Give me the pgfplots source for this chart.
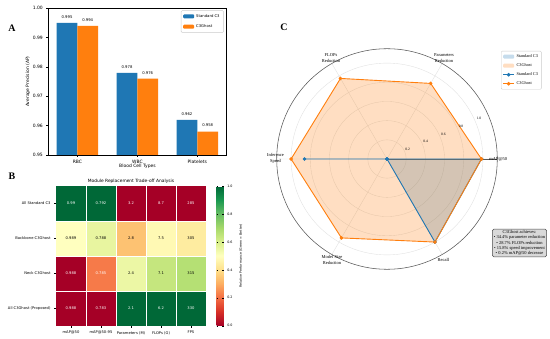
\documentclass[border=0pt]{standalone}
\usepackage{pgfplots}
\pgfplotsset{compat=1.18}
\usepackage{pgfplotstable}
\usepgfplotslibrary{polar}
\usepackage{fontspec}
\setmainfont{DejaVu Sans}
\newfontfamily\serifF{Liberation Serif}
\definecolor{c3blue}{RGB}{31,119,180}
\definecolor{c3orange}{RGB}{255,127,14}
\def\fC{\fontsize{3.3}{4}\selectfont}
\def\fT{\fontsize{3.7}{4.4}\selectfont}
\def\fL{\fontsize{3.8}{4.5}\selectfont}
\def\fS{\fontsize{4.5}{5.3}\selectfont}
\def\fH{\fontsize{4.4}{5.2}\selectfont}
\def\fR{\fontsize{4.5}{5.7}\selectfont}
\pgfplotsset{colormap={RdYlGn}{rgb255(0cm)=(165,0,38) rgb255(1cm)=(215,48,39) rgb255(2cm)=(244,109,67) rgb255(3cm)=(253,174,97) rgb255(4cm)=(254,224,139) rgb255(5cm)=(255,255,191) rgb255(6cm)=(217,239,139) rgb255(7cm)=(166,217,106) rgb255(8cm)=(102,189,99) rgb255(9cm)=(26,152,80) rgb255(10cm)=(0,104,55)}}
\pgfplotsset{
  legpatch/.style={legend image code/.code={\fill[##1] (0bp,-2bp) rectangle (11bp,2bp);}},
  legline/.style={legend image code/.code={\draw[mark repeat=2, mark phase=2, ##1] plot coordinates {(0bp,0bp) (5.5bp,0bp) (11bp,0bp)};}},
}

\pgfplotstableread{
cat std ghost
0 0.995 0.994
1 0.978 0.976
2 0.962 0.958
}\bars

% heatmap colour values (normalised, read from the cells); y=3 is the top row
\pgfplotstableread{
x y v
0 0 0.00
1 0 0.00
2 0 1.00
3 0 1.00
4 0 1.00
0 1 0.00
1 1 0.22
2 1 0.55
3 1 0.64
4 1 0.67
0 2 0.50
1 2 0.56
2 2 0.34
3 2 0.48
4 2 0.44
0 3 1.00
1 3 1.00
2 3 0.00
3 3 0.00
4 3 0.00
}\heatcolors

\pgfplotstableread{
x y lbl
0 3 0.99
1 3 0.792
2 3 3.2
3 3 8.7
4 3 285
0 1 0.988
1 1 0.785
0 0 0.988
1 0 0.783
2 0 2.1
3 0 6.2
4 0 330
}\heatwhite

\pgfplotstableread{
x y lbl
0 2 0.989
1 2 0.788
2 2 2.8
3 2 7.5
4 2 305
2 1 2.4
3 1 7.1
4 1 315
}\heatblack

\begin{document}
\begin{tikzpicture}
\useasboundingbox (0,0) rectangle (550bp,339bp);
\fill[white] (0,0) rectangle (550bp,339bp);

% ---------------- Panel A ----------------
\begin{axis}[
  scale only axis, width=178.4bp, height=146.7bp,
  at={(48.3bp,184bp)}, anchor=south west,
  /pgf/number format/assume math mode=true,
  ybar=0pt, bar width=20.7bp,
  xmin=-0.485, xmax=2.49, ymin=0.95, ymax=1.0,
  xtick={0,1,2}, xticklabels={RBC,WBC,Platelets},
  ytick={0.95,0.96,0.97,0.98,0.99,1.00},
  yticklabel style={/pgf/number format/.cd,fixed,precision=2,zerofill},
  tick align=outside, tick pos=left, major tick length=2bp,
  tick style={black, line width=0.4bp},
  axis line style={line width=0.5bp},
  ticklabel style={font=\fS},
  xlabel={Blood Cell Types}, ylabel={Average Precision (AP)},
  label style={font=\fS},
  xlabel style={at={(axis description cs:0.5,-0.075)}, anchor=center},
  ylabel style={at={(axis description cs:-0.114,0.5)}, anchor=center},
  nodes near coords={\pgfmathprintnumber[fixed,precision=3,zerofill]{\pgfplotspointmeta}},
  nodes near coords style={font=\fL, yshift=1bp, text=black},
  legend style={at={(0.984,0.985)}, anchor=north east, font=\fL, draw=black!20, rounded corners=1bp, inner xsep=2bp, inner ysep=1.5bp, row sep=2bp},
  legend cell align=left,
]
\addplot[fill=c3blue, draw=none, legpatch] table[x=cat,y=std]{\bars};
\addplot[fill=c3orange, draw=none, legpatch] table[x=cat,y=ghost]{\bars};
\legend{Standard C3, C3Ghost}
\end{axis}

% ---------------- Panel B ----------------
\begin{axis}[
  scale only axis, width=150bp, height=139.7bp,
  at={(56bp,13.3bp)}, anchor=south west,
  /pgf/number format/assume math mode=true,
  xmin=-0.5, xmax=4.5, ymin=-0.5, ymax=3.5,
  xtick={0,1,2,3,4}, xticklabels={mAP@50, mAP@50-95, Parameters (M), FLOPs (G), FPS},
  ytick={0,1,2,3}, yticklabels={All C3Ghost (Proposed), Neck C3Ghost, Backbone C3Ghost, All Standard C3},
  tick align=outside, tick pos=left, major tick length=2bp,
  tick style={black, line width=0.4bp},
  axis line style={draw=none},
  ticklabel style={font=\fT},
  title={Module Replacement Trade-off Analysis}, title style={font=\fH, yshift=-7bp},
  colormap name=RdYlGn,
  point meta min=0, point meta max=1,
  colorbar,
  colorbar style={
    at={(parent axis.north east)}, anchor=north west, xshift=2bp,
    width=7.3bp,
    /pgf/number format/assume math mode=true,
    ytick={0,0.2,0.4,0.6,0.8,1.0},
    yticklabel style={font=\fC, /pgf/number format/.cd, fixed, precision=1, zerofill},
    ylabel={Relative Performance (Green = Better)}, ylabel style={font=\fC},
    major tick length=1.5bp, tick style={black, line width=0.3bp},
    axis line style={draw=none},
  },
]
\addplot[matrix plot*, mesh/cols=5, point meta=explicit] table[meta=v]{\heatcolors};
\draw[white, line width=0.5bp] (axis cs:0.5,-0.5) -- (axis cs:0.5,3.5)
  (axis cs:1.5,-0.5) -- (axis cs:1.5,3.5) (axis cs:2.5,-0.5) -- (axis cs:2.5,3.5)
  (axis cs:3.5,-0.5) -- (axis cs:3.5,3.5)
  (axis cs:-0.5,0.5) -- (axis cs:4.5,0.5) (axis cs:-0.5,1.5) -- (axis cs:4.5,1.5)
  (axis cs:-0.5,2.5) -- (axis cs:4.5,2.5);
\addplot[draw=none, mark=none, nodes near coords, nodes near coords align=center,
  point meta=explicit symbolic, nodes near coords style={font=\fT, text=white}] table[meta=lbl]{\heatwhite};
\addplot[draw=none, mark=none, nodes near coords, nodes near coords align=center,
  point meta=explicit symbolic, nodes near coords style={font=\fT, text=black}] table[meta=lbl]{\heatblack};
\end{axis}

% ---------------- Panel C ----------------
\begin{polaraxis}[
  scale only axis, width=220.6bp, height=220.6bp,
  at={(387bp,180bp)}, anchor=center,
  xmin=0, xmax=360, ymin=0, ymax=1.15,
  xtick={0,60,120,180,240,300}, xticklabels={},
  ytick={0.2,0.4,0.6,0.8,1.0}, yticklabels={},
  grid=major, major grid style={draw=black!12, line width=0.35bp},
  axis line style={draw=black!65, line width=0.55bp},
  major tick length=0pt,
  legend style={at={(1.0168,0.9896)}, anchor=north west, font=\serifF\fontsize{4.3}{5}\selectfont, draw=black!20, fill=white, rounded corners=1bp, inner xsep=1.5bp, inner ysep=1.2bp, row sep=0.6bp},
  legend cell align=left,
]
\addplot[fill=c3blue, fill opacity=0.25, draw=none, legpatch]
  coordinates {(0,0.985) (60,0) (120,0) (180,0.86) (240,0) (300,1.0) (360,0.985)};
\addplot[fill=c3orange, fill opacity=0.25, draw=none, legpatch]
  coordinates {(0,0.985) (60,0.91) (120,0.97) (180,1.0) (240,0.95) (300,1.0) (360,0.985)};
\addplot[c3blue, line width=0.9bp, mark=*, mark size=1.3bp, legline]
  coordinates {(0,0.985) (60,0) (120,0) (180,0.86) (240,0) (300,1.0) (360,0.985)};
\addplot[c3orange, line width=0.9bp, mark=*, mark size=1.3bp, legline]
  coordinates {(0,0.985) (60,0.91) (120,0.97) (180,1.0) (240,0.95) (300,1.0) (360,0.985)};
\legend{Standard C3, C3Ghost, Standard C3, C3Ghost}
\end{polaraxis}

% radar labels
\begin{scope}[every node/.style={font=\serifF\fR, align=center, inner sep=0pt}]
\node at (331bp,281bp) {FLOPs\\Reduction};
\node at (444bp,281bp) {Parameters\\Reduction};
\node at (275.5bp,180.5bp) {Inference\\Speed};
\node at (332bp,79bp) {Model Size\\Reduction};
\node at (443.3bp,79bp) {Recall};
\node at (498.3bp,180bp) {mAP@50};
\end{scope}
\begin{scope}[every node/.style={font=\serifF\fontsize{3.6}{4}\selectfont, inner sep=0pt}]
\node at (407.7bp,190bp) {0.2};
\node at (425.7bp,197.7bp) {0.4};
\node at (443.3bp,205bp) {0.6};
\node at (461bp,212.7bp) {0.8};
\node at (479bp,220.3bp) {1.0};
\end{scope}
\node[draw=black!70, fill=black!15, rounded corners=1.5bp, line width=0.4bp, align=center,
  font=\serifF\fontsize{4.5}{5.2}\selectfont, inner sep=1.5bp] at (519.5bp,96bp)
  {C3Ghost achieves:\\• 34.4\% parameter reduction\\• 28.7\% FLOPs reduction\\• 15.8\% speed improvement\\• 0.2\% mAP@50 decrease};

% panel letters
\node[font=\serifF\bfseries\fontsize{10}{12}\selectfont] at (12bp,311bp) {A};
\node[font=\serifF\bfseries\fontsize{10}{12}\selectfont] at (12bp,162.3bp) {B};
\node[font=\serifF\bfseries\fontsize{10}{12}\selectfont] at (284bp,311.3bp) {C};
\end{tikzpicture}
\end{document}
